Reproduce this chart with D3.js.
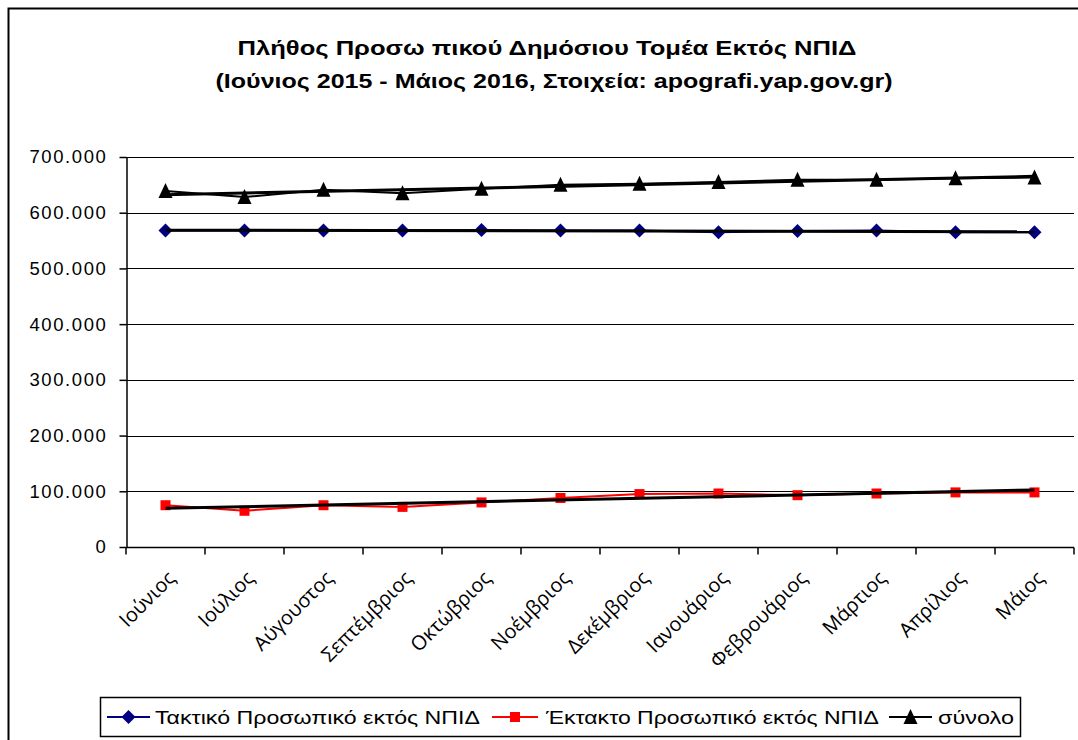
<!DOCTYPE html>
<html>
<head>
<meta charset="utf-8">
<script src="https://cdn.jsdelivr.net/npm/d3@7"></script>
<style>
  html, body { margin: 0; padding: 0; background: #fff; }
  svg { display: block; }
</style>
</head>
<body>
<script>
// ---- data ----
const categories = ["Ιούνιος", "Ιούλιος", "Αύγουστος", "Σεπτέμβριος", "Οκτώβριος", "Νοέμβριος",
  "Δεκέμβριος", "Ιανουάριος", "Φεβρουάριος", "Μάρτιος", "Απρίλιος", "Μάιος"];
const taktiko = [568000, 568000, 568000, 568000, 569000, 568000, 568000, 565000, 567000, 568000, 565000, 565000];
const ektakto = [75000, 65000, 75000, 72000, 80000, 88000, 95000, 96000, 93000, 96000, 98000, 98000];
const synolo  = [639000, 628000, 641000, 635000, 643000, 650000, 652000, 655000, 659000, 659000, 662000, 663000];
const yTicks = [0, 100000, 200000, 300000, 400000, 500000, 600000, 700000];
const titleLines = ["Πλήθος Προσω πικού Δημόσιου  Τομέα Εκτός ΝΠΙΔ",
  "(Ιούνιος 2015 - Μάιος 2016, Στοιχεία: apografi.yap.gov.gr)"];
const legendLabels = ["Τακτικό Προσωπικό εκτός ΝΠΙΔ", "Έκτακτο Προσωπικό εκτός ΝΠΙΔ", "σύνολο"];

const W = 1078, H = 740;
const svg = d3.select("body").append("svg").attr("width", W).attr("height", H);

// outer border
svg.append("rect").attr("x", 8.5).attr("y", 8.5).attr("width", W + 20).attr("height", H + 20)
  .attr("fill", "none").attr("stroke", "#000").attr("stroke-width", 2);

// title
const titleG = svg.append("g").attr("font-family", "Liberation Sans, Arial, sans-serif")
  .attr("font-weight", "bold").attr("font-size", 21).attr("fill", "#000");
titleG.append("text").attr("x", 547).attr("y", 55).attr("text-anchor", "middle")
  .attr("textLength", 619).attr("lengthAdjust", "spacingAndGlyphs").text(titleLines[0]);
titleG.append("text").attr("x", 554).attr("y", 88).attr("text-anchor", "middle")
  .attr("textLength", 677).attr("lengthAdjust", "spacingAndGlyphs").text(titleLines[1]);

// scales
const x = d3.scaleBand().domain(categories).range([126, 1074]);
const y = d3.scaleLinear().domain([0, 700000]).range([547, 157]);
const cx = d => x(d) + x.bandwidth() / 2;

// gridlines
svg.append("g").selectAll("line").data(yTicks.filter(t => t > 0)).join("line")
  .attr("x1", 126).attr("x2", 1074)
  .attr("y1", d => Math.round(y(d)) + 0.5).attr("y2", d => Math.round(y(d)) + 0.5)
  .attr("stroke", "#000").attr("stroke-width", 1);

// y axis
const fmt = v => v === 0 ? "0" : d3.format(",")(v).replace(/,/g, ".");
const yAxis = svg.append("g").attr("transform", "translate(126.5,0)")
  .call(d3.axisLeft(y).tickValues(yTicks).tickFormat(fmt).tickSize(7).tickSizeOuter(0).tickPadding(12));
yAxis.select(".domain").attr("stroke", "#000").attr("stroke-width", 1.5);
yAxis.selectAll(".tick line").attr("stroke", "#000").attr("stroke-width", 1.5);
yAxis.selectAll(".tick text").attr("font-family", "Liberation Sans, Arial, sans-serif")
  .attr("font-size", 18.5).attr("letter-spacing", "1.6px").attr("fill", "#000");
yAxis.attr("font-size", null).attr("font-family", null);

// x axis
const xAxisG = svg.append("g").attr("transform", "translate(0,547.5)");
xAxisG.append("line").attr("x1", 126).attr("x2", 1074).attr("stroke", "#000").attr("stroke-width", 1.5);
const boundaries = categories.map(c => x(c)).concat([x.range()[1]]);
xAxisG.selectAll("line.tk").data(boundaries).join("line").attr("class", "tk")
  .attr("x1", d => d).attr("x2", d => d).attr("y1", 0).attr("y2", 7)
  .attr("stroke", "#000").attr("stroke-width", 1.5);
xAxisG.selectAll("text").data(categories).join("text")
  .attr("transform", d => `translate(${cx(d) + 1},${22}) rotate(-45)`)
  .attr("text-anchor", "end").attr("dy", "0.7em")
  .attr("font-family", "Open Sans, sans-serif").attr("font-size", 20).attr("fill", "#000")
  .text(d => d);

// series
const seriesDefs = [
  { data: taktiko, color: "#000080", marker: "diamond" },
  { data: ektakto, color: "#ff0000", marker: "square" },
  { data: synolo,  color: "#000000", marker: "triangle" }
];
const line = d3.line().x((d, i) => cx(categories[i])).y(d => y(d));

function markerPath(type) {
  if (type === "diamond") return "M0,-7L7,0L0,7L-7,0Z";
  if (type === "square") return "M-5,-5H5V5H-5Z";
  return "M0,-8L7,7H-7Z";
}

seriesDefs.forEach(s => {
  svg.append("path").attr("d", line(s.data)).attr("fill", "none")
    .attr("stroke", s.color).attr("stroke-width", 2);
  svg.append("g").selectAll("path").data(s.data).join("path")
    .attr("transform", (d, i) => `translate(${cx(categories[i])},${y(d)})`)
    .attr("d", markerPath(s.marker)).attr("fill", s.color);
});

// linear trendlines (least squares of each series)
function trend(vals) {
  const n = vals.length, mx = (n - 1) / 2, my = d3.mean(vals);
  let sxy = 0, sxx = 0;
  vals.forEach((v, i) => { sxy += (i - mx) * (v - my); sxx += (i - mx) * (i - mx); });
  const b = sxy / sxx, a = my - b * mx;
  return [a, a + b * (n - 1)];
}
seriesDefs.forEach(s => {
  const [y0, y1] = trend(s.data);
  svg.append("line")
    .attr("x1", cx(categories[0])).attr("x2", cx(categories[categories.length - 1]))
    .attr("y1", y(y0)).attr("y2", y(y1))
    .attr("stroke", "#000").attr("stroke-width", 3);
});

// legend
const lg = svg.append("g");
lg.append("rect").attr("x", 100.5).attr("y", 697.5).attr("width", 920).attr("height", 39)
  .attr("fill", "#fff").attr("stroke", "#000").attr("stroke-width", 1.5);
const legendItems = [
  { x0: 107, x1: 150, tx: 155, tl: 325, s: seriesDefs[0] },
  { x0: 492, x1: 538, tx: 546, tl: 333, s: seriesDefs[1] },
  { x0: 889, x1: 932, tx: 938, tl: 76, s: seriesDefs[2] }
];
const ly = 717;
legendItems.forEach((it, i) => {
  lg.append("line").attr("x1", it.x0).attr("x2", it.x1).attr("y1", ly).attr("y2", ly)
    .attr("stroke", it.s.color).attr("stroke-width", 2);
  lg.append("path").attr("transform", `translate(${(it.x0 + it.x1) / 2},${ly})`)
    .attr("d", markerPath(it.s.marker)).attr("fill", it.s.color);
  lg.append("text").attr("x", it.tx).attr("y", ly + 7)
    .attr("font-family", "Liberation Sans, Arial, sans-serif").attr("font-size", 19)
    .attr("textLength", it.tl).attr("lengthAdjust", "spacingAndGlyphs")
    .attr("fill", "#000").text(legendLabels[i]);
});
</script>
</body>
</html>
